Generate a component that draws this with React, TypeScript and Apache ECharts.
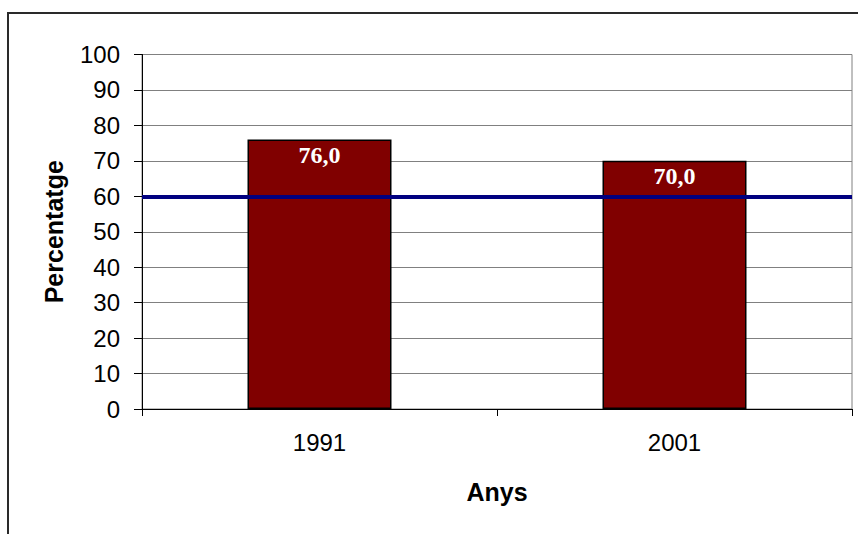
import React, { useEffect, useRef } from "react";
import * as echarts from "echarts";

const categories = ["1991", "2001"];
const percentages = [76.0, 70.0];
const referenceLevel = 60;
const yTicks = { min: 0, max: 100, interval: 10 };
const xAxisTitle = "Anys";
const yAxisTitle = "Percentatge";

export default function App() {
  const ref = useRef<HTMLDivElement>(null);

  useEffect(() => {
    if (!ref.current) return;
    const chart = echarts.init(ref.current, undefined, { renderer: "svg" });
    const sans = "Arial, 'Liberation Sans', sans-serif";
    const serif = "'Times New Roman', 'Liberation Serif', serif";
    chart.setOption({
      animation: false,
      backgroundColor: "#ffffff",
      graphic: [
        {
          type: "rect",
          shape: { x: 8, y: 13, width: 870, height: 540 },
          style: { fill: "none", stroke: "#2a2a2a", lineWidth: 2 },
          silent: true,
          z: 0,
        },
      ],
      grid: {
        left: 142,
        top: 54.5,
        right: 6,
        bottom: 125,
        containLabel: false,
        show: true,
        borderColor: "#808080",
        borderWidth: 1,
        backgroundColor: "transparent",
      },
      xAxis: {
        type: "category",
        data: categories,
        name: xAxisTitle,
        nameLocation: "middle",
        nameGap: 70,
        nameTextStyle: { fontFamily: sans, fontWeight: "bold", fontSize: 25, color: "#000" },
        axisLine: { lineStyle: { color: "#000", width: 1 } },
        axisTick: { show: true, alignWithLabel: false, length: 7, lineStyle: { color: "#000" } },
        axisLabel: { fontFamily: sans, fontSize: 24, color: "#000", margin: 21 },
        splitLine: { show: false },
      },
      yAxis: {
        type: "value",
        min: yTicks.min,
        max: yTicks.max,
        interval: yTicks.interval,
        name: yAxisTitle,
        nameLocation: "middle",
        nameGap: 76,
        nameTextStyle: { fontFamily: sans, fontWeight: "bold", fontSize: 25, color: "#000" },
        axisLine: { show: true, lineStyle: { color: "#000", width: 1 } },
        axisTick: { show: true, length: 8, lineStyle: { color: "#000" } },
        axisLabel: { fontFamily: sans, fontSize: 24, color: "#000", margin: 22 },
        splitLine: { show: true, lineStyle: { color: "#808080", width: 1 } },
      },
      series: [
        {
          type: "bar",
          data: percentages,
          barWidth: 144,
          itemStyle: { color: "#800000", borderColor: "#000", borderWidth: 1.5 },
          label: {
            show: true,
            position: "insideTop",
            distance: 3,
            color: "#ffffff",
            fontFamily: serif,
            fontWeight: "bold",
            fontSize: 24,
            formatter: (p: any) => Number(p.value).toFixed(1).replace(".", ","),
          },
          markLine: {
            silent: true,
            symbol: "none",
            label: { show: false },
            lineStyle: { color: "#000080", width: 4, type: "solid" },
            data: [{ yAxis: referenceLevel }],
            z: 5,
          },
        },
      ],
    });
    return () => chart.dispose();
  }, []);

  return (
    <div
      ref={ref}
      style={{ position: "fixed", left: 0, top: 0, width: 858, height: 534, background: "#fff" }}
    />
  );
}
